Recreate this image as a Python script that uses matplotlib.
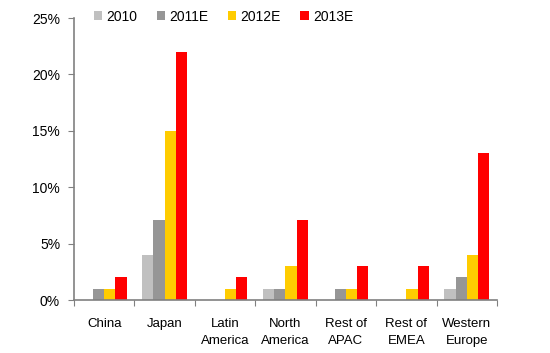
import matplotlib
matplotlib.use("Agg")
import matplotlib.pyplot as plt
import numpy as np
from matplotlib.ticker import FixedLocator, FuncFormatter

categories = ["China", "Japan", "Latin\nAmerica", "North\nAmerica", "Rest of\nAPAC", "Rest of\nEMEA", "Western\nEurope"]
series_names = ["2010", "2011E", "2012E", "2013E"]
v2010 = [0, 4, 0, 1, 0, 0, 1]
v2011 = [1, 7.1, 0, 1, 1, 0, 2]
v2012 = [1, 15, 1, 3, 1, 1, 4]
v2013 = [2, 22, 2, 7.1, 3, 3, 13]
colors = ["#C0C0C0", "#969696", "#FFCC00", "#FF0000"]

plt.rcParams['font.family'] = ['Liberation Sans', 'DejaVu Sans']
fig = plt.figure(figsize=(5.5, 3.53), dpi=100)
ax = fig.add_axes([74/550, 1-300/353, (497-74)/550, (300-18)/353])

x = np.arange(len(categories))
w = 0.185
for i, (vals, name, c) in enumerate(zip([v2010, v2011, v2012, v2013], series_names, colors)):
    ax.bar(x + (i - 1.5) * w, vals, width=w, color=c, label=name, linewidth=0)

ax.set_xlim(-0.5, len(categories) - 0.5)
ax.set_ylim(0, 25)
ax.set_yticks([0, 5, 10, 15, 20, 25])
ax.yaxis.set_major_formatter(FuncFormatter(lambda v, p: f"{int(v)}%"))
ax.xaxis.set_major_locator(FixedLocator(np.arange(len(categories) + 1) - 0.5))
ax.xaxis.set_major_formatter(FuncFormatter(lambda v, p: ""))
ax.xaxis.set_minor_locator(FixedLocator(x))
ax.set_xticklabels(categories, minor=True)
ax.tick_params(axis='x', which='minor', length=0, pad=13, labelsize=9.5)
ax.tick_params(axis='x', which='major', length=4, direction='out', color='#808080')
ax.tick_params(axis='y', length=4, direction='out', color='#808080', labelsize=10, pad=6)
for lab in ax.get_xticklabels(minor=True):
    lab.set_linespacing(1.55)
for s in ['top', 'right']:
    ax.spines[s].set_visible(False)
for s in ['left', 'bottom']:
    ax.spines[s].set_color('#808080')
    ax.spines[s].set_linewidth(1.2)

leg = ax.legend(loc='center left', bbox_to_anchor=(0.034, 1.005), ncol=4, frameon=False,
                fontsize=10, handlelength=0.6, handleheight=0.6, handletextpad=0.3,
                columnspacing=1.4, borderaxespad=0)

fig.savefig("out.png", dpi=100)
